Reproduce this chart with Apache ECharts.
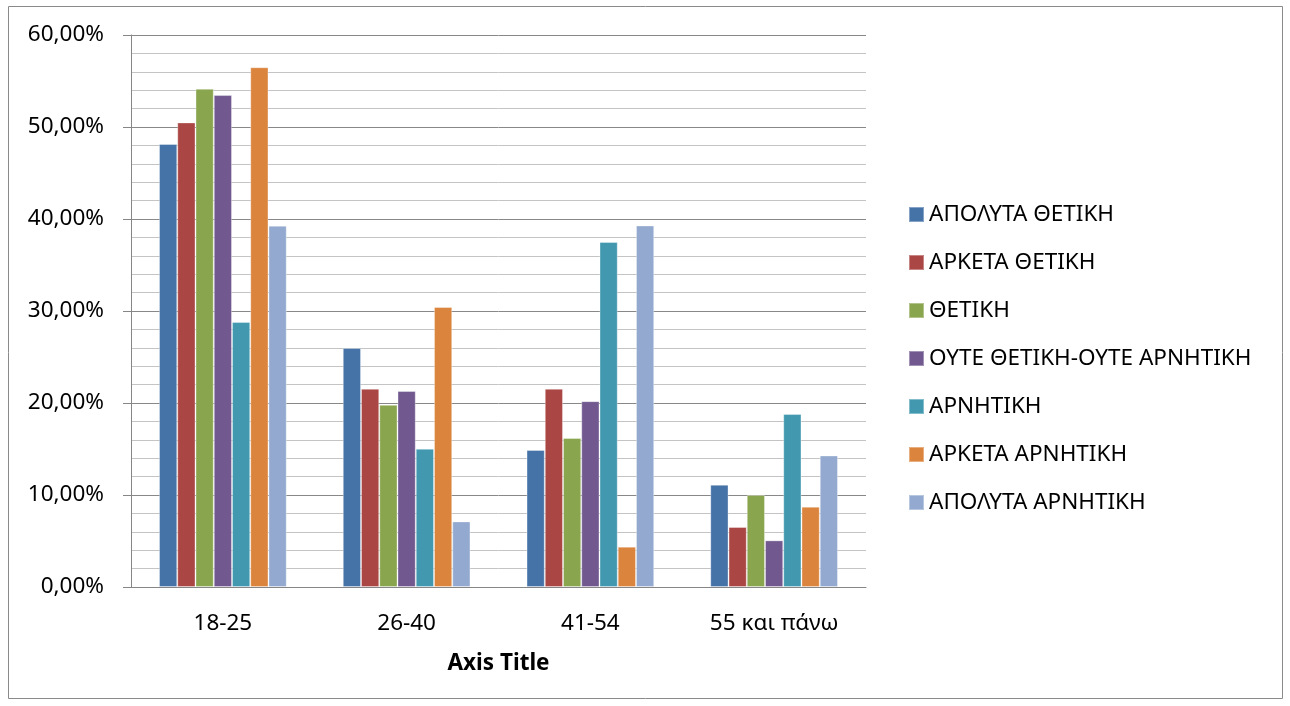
<!DOCTYPE html>
<html>
<head>
<meta charset="utf-8">
<script src="https://cdn.jsdelivr.net/npm/echarts@6/dist/echarts.min.js"></script>
<style>
  html, body { margin: 0; padding: 0; background: #ffffff; }
  #chart { width: 1290px; height: 706px; }
</style>
</head>
<body>
<div id="chart"></div>
<script>
// Age groups on the category axis
const ageGroups = ['18-25', '26-40', '41-54', '55 και πάνω'];

// Share of respondents (%) per attitude, one value per age group
const apolytaThetiki   = [48.15, 25.98, 14.90, 11.12];
const arketaThetiki    = [50.50, 21.55, 21.55, 6.52];
const thetiki          = [54.16, 19.80, 16.20, 10.00];
const oute             = [53.47, 21.30, 20.20, 5.07];
const arnitiki         = [28.80, 15.03, 37.50, 18.80];
const arketaArnitiki   = [56.50, 30.43, 4.38, 8.73];
const apolytaArnitiki  = [39.27, 7.13, 39.30, 14.30];

const seriesNames = [
  'ΑΠΟΛΥΤΑ ΘΕΤΙΚΗ',
  'ΑΡΚΕΤΑ ΘΕΤΙΚΗ',
  'ΘΕΤΙΚΗ',
  'ΟΥΤΕ ΘΕΤΙΚΗ-ΟΥΤΕ ΑΡΝΗΤΙΚΗ',
  'ΑΡΝΗΤΙΚΗ',
  'ΑΡΚΕΤΑ ΑΡΝΗΤΙΚΗ',
  'ΑΠΟΛΥΤΑ ΑΡΝΗΤΙΚΗ'
];
const seriesData = [apolytaThetiki, arketaThetiki, thetiki, oute, arnitiki, arketaArnitiki, apolytaArnitiki];
const seriesColors = ['#4572A7', '#AA4643', '#89A54E', '#71588F', '#4198AF', '#DB843D', '#93A9CF'];

const FONT = '"Noto Sans", "DejaVu Sans", sans-serif';
const FS = 22.5;

const chart = echarts.init(document.getElementById('chart'), null, { renderer: 'canvas' });

const option = {
  animation: false,
  backgroundColor: '#ffffff',
  color: seriesColors,
  graphic: [{
    type: 'rect',
    shape: { x: 8.5, y: 6.5, width: 1274, height: 692 },
    style: { fill: 'none', stroke: '#8a8a8a', lineWidth: 1 },
    silent: true,
    z: -1
  }],
  grid: { left: 131, right: 424, top: 35, bottom: 119, containLabel: false },
  legend: {
    orient: 'vertical',
    left: 903,
    top: 198,
    icon: 'rect',
    itemWidth: 15,
    itemHeight: 15,
    itemGap: 25,
    textStyle: { fontFamily: FONT, fontSize: FS, lineHeight: 23, color: '#000000' },
    data: seriesNames
  },
  xAxis: {
    type: 'category',
    data: ageGroups,
    axisLine: { show: true, lineStyle: { color: '#868686', width: 1 } },
    axisTick: { show: false },
    axisLabel: { fontFamily: FONT, fontSize: FS, color: '#000000', margin: 25 },
    name: 'Axis Title',
    nameLocation: 'middle',
    nameGap: 65,
    nameTextStyle: { fontFamily: FONT, fontSize: FS, fontWeight: 'bold', color: '#000000' }
  },
  yAxis: {
    type: 'value',
    min: 0,
    max: 60,
    interval: 10,
    axisLine: { show: true, lineStyle: { color: '#868686', width: 1 } },
    axisTick: { show: true, length: 8, inside: false, lineStyle: { color: '#868686' } },
    axisLabel: {
      fontFamily: FONT, fontSize: FS, color: '#000000', margin: 27,
      formatter: v => v.toFixed(2).replace('.', ',') + '%'
    },
    splitLine: { show: true, lineStyle: { color: '#888888', width: 1 } },
    minorTick: { show: false, splitNumber: 5 },
    minorSplitLine: { show: true, lineStyle: { color: '#c4c4c4', width: 1 } }
  },
  series: seriesNames.map((name, i) => ({
    name: name,
    type: 'bar',
    data: seriesData[i],
    barGap: '0%',
    barCategoryGap: '30.5%',
    itemStyle: { color: seriesColors[i], borderColor: 'rgba(255,255,255,0.35)', borderWidth: 1 }
  }))
};

chart.setOption(option);
</script>
</body>
</html>
